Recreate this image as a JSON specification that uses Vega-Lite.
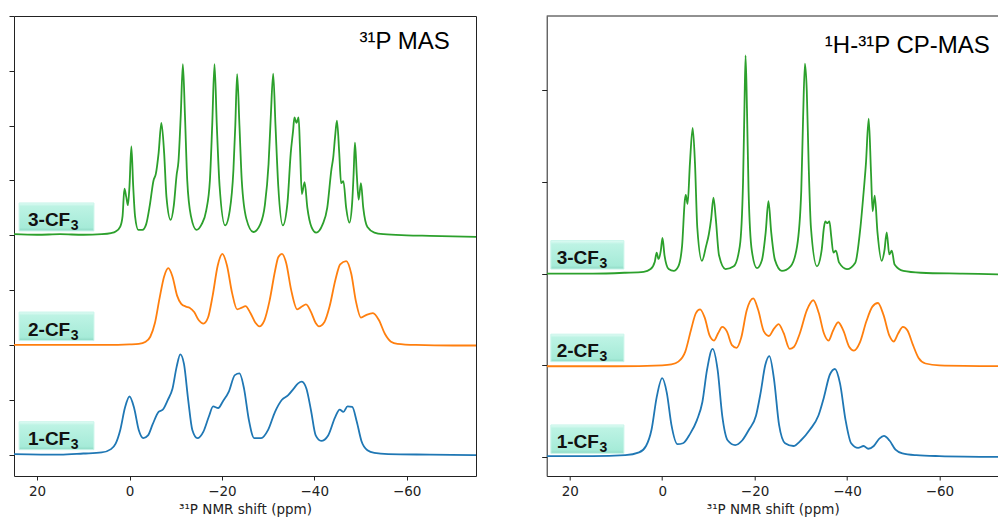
{
  "$schema": "https://vega.github.io/schema/vega-lite/v6.json",
  "padding": {"left": 8, "top": 15, "right": 0, "bottom": 0},
  "background": "white",
  "bounds": "flush",
  "spacing": 70.7,
  "config": {
    "axis": {"labelFont": "DejaVu Sans", "labelFontSize": 13.5, "labelColor": "#222", "titleFont": "DejaVu Sans", "titleFontSize": 13.5, "titleFontWeight": "normal", "titleColor": "#222", "tickColor": "#222", "domainColor": "#222", "grid": false},
    "view": {"stroke": "#222"}
  },
  "datasets": {
    "mas": [
      {"s":"3-CF3","ppm":25,"v":4.02},{"s":"3-CF3","ppm":20,"v":4.01},{"s":"3-CF3","ppm":15,"v":4.02},{"s":"3-CF3","ppm":10,"v":4.01},{"s":"3-CF3","ppm":6,"v":4.02},{"s":"3-CF3","ppm":4,"v":4.04},{"s":"3-CF3","ppm":3,"v":4.07},{"s":"3-CF3","ppm":2,"v":4.16},{"s":"3-CF3","ppm":1.5,"v":4.35},{"s":"3-CF3","ppm":1.1,"v":4.85},{"s":"3-CF3","ppm":0.7,"v":4.7},{"s":"3-CF3","ppm":0.35,"v":4.55},{"s":"3-CF3","ppm":0,"v":4.9},{"s":"3-CF3","ppm":-0.4,"v":5.62},{"s":"3-CF3","ppm":-0.8,"v":4.9},{"s":"3-CF3","ppm":-1.2,"v":4.35},{"s":"3-CF3","ppm":-1.9,"v":4.1},{"s":"3-CF3","ppm":-2.8,"v":4.1},{"s":"3-CF3","ppm":-3.6,"v":4.2},{"s":"3-CF3","ppm":-4.4,"v":4.55},{"s":"3-CF3","ppm":-5.2,"v":5.0},{"s":"3-CF3","ppm":-5.7,"v":5.12},{"s":"3-CF3","ppm":-6.3,"v":5.5},{"s":"3-CF3","ppm":-6.9,"v":6.05},{"s":"3-CF3","ppm":-7.5,"v":5.5},{"s":"3-CF3","ppm":-8.0,"v":4.7},{"s":"3-CF3","ppm":-8.9,"v":4.28},{"s":"3-CF3","ppm":-9.6,"v":4.55},{"s":"3-CF3","ppm":-10.2,"v":5.1},{"s":"3-CF3","ppm":-10.6,"v":5.35},{"s":"3-CF3","ppm":-11.1,"v":6.2},{"s":"3-CF3","ppm":-11.55,"v":7.12},{"s":"3-CF3","ppm":-12.0,"v":6.2},{"s":"3-CF3","ppm":-12.5,"v":5.0},{"s":"3-CF3","ppm":-13.3,"v":4.35},{"s":"3-CF3","ppm":-14.5,"v":4.1},{"s":"3-CF3","ppm":-15.6,"v":4.2},{"s":"3-CF3","ppm":-16.6,"v":4.45},{"s":"3-CF3","ppm":-17.4,"v":5.0},{"s":"3-CF3","ppm":-17.9,"v":6.0},{"s":"3-CF3","ppm":-18.4,"v":7.12},{"s":"3-CF3","ppm":-18.9,"v":6.0},{"s":"3-CF3","ppm":-19.5,"v":4.9},{"s":"3-CF3","ppm":-20.7,"v":4.18},{"s":"3-CF3","ppm":-21.7,"v":4.45},{"s":"3-CF3","ppm":-22.5,"v":5.2},{"s":"3-CF3","ppm":-22.9,"v":6.0},{"s":"3-CF3","ppm":-23.3,"v":6.94},{"s":"3-CF3","ppm":-23.8,"v":6.0},{"s":"3-CF3","ppm":-24.3,"v":5.0},{"s":"3-CF3","ppm":-25.3,"v":4.3},{"s":"3-CF3","ppm":-26.8,"v":4.06},{"s":"3-CF3","ppm":-28.3,"v":4.2},{"s":"3-CF3","ppm":-29.3,"v":4.55},{"s":"3-CF3","ppm":-30.1,"v":5.3},{"s":"3-CF3","ppm":-30.6,"v":6.2},{"s":"3-CF3","ppm":-31.1,"v":6.95},{"s":"3-CF3","ppm":-31.6,"v":6.0},{"s":"3-CF3","ppm":-32.2,"v":4.9},{"s":"3-CF3","ppm":-33.2,"v":4.18},{"s":"3-CF3","ppm":-34.2,"v":4.6},{"s":"3-CF3","ppm":-34.9,"v":5.5},{"s":"3-CF3","ppm":-35.4,"v":5.9},{"s":"3-CF3","ppm":-35.7,"v":6.15},{"s":"3-CF3","ppm":-36.15,"v":6.05},{"s":"3-CF3","ppm":-36.6,"v":6.15},{"s":"3-CF3","ppm":-36.9,"v":5.6},{"s":"3-CF3","ppm":-37.3,"v":4.75},{"s":"3-CF3","ppm":-37.9,"v":4.97},{"s":"3-CF3","ppm":-38.5,"v":4.5},{"s":"3-CF3","ppm":-39.4,"v":4.15},{"s":"3-CF3","ppm":-40.4,"v":4.05},{"s":"3-CF3","ppm":-41.8,"v":4.2},{"s":"3-CF3","ppm":-42.8,"v":4.5},{"s":"3-CF3","ppm":-43.7,"v":5.2},{"s":"3-CF3","ppm":-44.1,"v":5.42},{"s":"3-CF3","ppm":-44.5,"v":5.8},{"s":"3-CF3","ppm":-44.9,"v":6.09},{"s":"3-CF3","ppm":-45.4,"v":5.5},{"s":"3-CF3","ppm":-45.8,"v":4.95},{"s":"3-CF3","ppm":-46.3,"v":4.99},{"s":"3-CF3","ppm":-46.9,"v":4.5},{"s":"3-CF3","ppm":-47.6,"v":4.23},{"s":"3-CF3","ppm":-48.2,"v":4.6},{"s":"3-CF3","ppm":-48.5,"v":5.1},{"s":"3-CF3","ppm":-48.8,"v":5.69},{"s":"3-CF3","ppm":-49.2,"v":5.1},{"s":"3-CF3","ppm":-49.6,"v":4.65},{"s":"3-CF3","ppm":-50.1,"v":4.95},{"s":"3-CF3","ppm":-50.6,"v":4.5},{"s":"3-CF3","ppm":-51.5,"v":4.15},{"s":"3-CF3","ppm":-53,"v":4.05},{"s":"3-CF3","ppm":-55,"v":4.02},{"s":"3-CF3","ppm":-60,"v":4.0},{"s":"3-CF3","ppm":-65,"v":3.99},{"s":"3-CF3","ppm":-70,"v":3.98},{"s":"3-CF3","ppm":-75,"v":3.97},
      {"s":"2-CF3","ppm":25,"v":2.0},{"s":"2-CF3","ppm":15,"v":2.0},{"s":"2-CF3","ppm":5,"v":2.0},{"s":"2-CF3","ppm":0,"v":2.01},{"s":"2-CF3","ppm":-2,"v":2.02},{"s":"2-CF3","ppm":-3.5,"v":2.06},{"s":"2-CF3","ppm":-4.5,"v":2.15},{"s":"2-CF3","ppm":-5.5,"v":2.4},{"s":"2-CF3","ppm":-6.5,"v":2.85},{"s":"2-CF3","ppm":-7.5,"v":3.25},{"s":"2-CF3","ppm":-8.4,"v":3.4},{"s":"2-CF3","ppm":-9.3,"v":3.25},{"s":"2-CF3","ppm":-10.3,"v":2.9},{"s":"2-CF3","ppm":-11.2,"v":2.75},{"s":"2-CF3","ppm":-12.2,"v":2.7},{"s":"2-CF3","ppm":-13.0,"v":2.68},{"s":"2-CF3","ppm":-14.0,"v":2.6},{"s":"2-CF3","ppm":-15.0,"v":2.45},{"s":"2-CF3","ppm":-16.0,"v":2.39},{"s":"2-CF3","ppm":-17.0,"v":2.5},{"s":"2-CF3","ppm":-18.0,"v":2.9},{"s":"2-CF3","ppm":-19.1,"v":3.45},{"s":"2-CF3","ppm":-20.1,"v":3.66},{"s":"2-CF3","ppm":-21.1,"v":3.45},{"s":"2-CF3","ppm":-22.2,"v":2.95},{"s":"2-CF3","ppm":-23.3,"v":2.65},{"s":"2-CF3","ppm":-24.3,"v":2.68},{"s":"2-CF3","ppm":-25.1,"v":2.71},{"s":"2-CF3","ppm":-26.2,"v":2.58},{"s":"2-CF3","ppm":-27.3,"v":2.4},{"s":"2-CF3","ppm":-28.1,"v":2.34},{"s":"2-CF3","ppm":-29.2,"v":2.45},{"s":"2-CF3","ppm":-30.3,"v":2.8},{"s":"2-CF3","ppm":-31.5,"v":3.35},{"s":"2-CF3","ppm":-32.2,"v":3.6},{"s":"2-CF3","ppm":-33.0,"v":3.66},{"s":"2-CF3","ppm":-33.9,"v":3.5},{"s":"2-CF3","ppm":-35.0,"v":3.0},{"s":"2-CF3","ppm":-36.3,"v":2.65},{"s":"2-CF3","ppm":-37.3,"v":2.7},{"s":"2-CF3","ppm":-38.2,"v":2.74},{"s":"2-CF3","ppm":-39.3,"v":2.6},{"s":"2-CF3","ppm":-40.3,"v":2.4},{"s":"2-CF3","ppm":-41.0,"v":2.34},{"s":"2-CF3","ppm":-42.2,"v":2.42},{"s":"2-CF3","ppm":-43.3,"v":2.7},{"s":"2-CF3","ppm":-44.6,"v":3.2},{"s":"2-CF3","ppm":-45.6,"v":3.47},{"s":"2-CF3","ppm":-46.9,"v":3.53},{"s":"2-CF3","ppm":-48.0,"v":3.3},{"s":"2-CF3","ppm":-49.0,"v":2.8},{"s":"2-CF3","ppm":-50.1,"v":2.5},{"s":"2-CF3","ppm":-51.3,"v":2.55},{"s":"2-CF3","ppm":-52.7,"v":2.58},{"s":"2-CF3","ppm":-54.0,"v":2.45},{"s":"2-CF3","ppm":-55.3,"v":2.2},{"s":"2-CF3","ppm":-56.6,"v":2.06},{"s":"2-CF3","ppm":-58,"v":2.02},{"s":"2-CF3","ppm":-62,"v":2.0},{"s":"2-CF3","ppm":-70,"v":1.99},{"s":"2-CF3","ppm":-75,"v":1.99},
      {"s":"1-CF3","ppm":25,"v":0.01},{"s":"1-CF3","ppm":15,"v":0.0},{"s":"1-CF3","ppm":10,"v":0.02},{"s":"1-CF3","ppm":6,"v":0.04},{"s":"1-CF3","ppm":4,"v":0.1},{"s":"1-CF3","ppm":3,"v":0.2},{"s":"1-CF3","ppm":2,"v":0.45},{"s":"1-CF3","ppm":1,"v":0.85},{"s":"1-CF3","ppm":0,"v":1.06},{"s":"1-CF3","ppm":-1,"v":0.85},{"s":"1-CF3","ppm":-2,"v":0.45},{"s":"1-CF3","ppm":-3,"v":0.3},{"s":"1-CF3","ppm":-4,"v":0.35},{"s":"1-CF3","ppm":-5,"v":0.55},{"s":"1-CF3","ppm":-6.3,"v":0.78},{"s":"1-CF3","ppm":-7.2,"v":0.82},{"s":"1-CF3","ppm":-8.3,"v":1.0},{"s":"1-CF3","ppm":-9.3,"v":1.2},{"s":"1-CF3","ppm":-10.2,"v":1.6},{"s":"1-CF3","ppm":-11.0,"v":1.83},{"s":"1-CF3","ppm":-11.8,"v":1.65},{"s":"1-CF3","ppm":-12.7,"v":1.0},{"s":"1-CF3","ppm":-13.6,"v":0.45},{"s":"1-CF3","ppm":-14.7,"v":0.3},{"s":"1-CF3","ppm":-16,"v":0.42},{"s":"1-CF3","ppm":-17.2,"v":0.7},{"s":"1-CF3","ppm":-18.1,"v":0.88},{"s":"1-CF3","ppm":-19.2,"v":0.85},{"s":"1-CF3","ppm":-20.2,"v":0.97},{"s":"1-CF3","ppm":-21.5,"v":1.15},{"s":"1-CF3","ppm":-22.8,"v":1.45},{"s":"1-CF3","ppm":-23.8,"v":1.48},{"s":"1-CF3","ppm":-24.8,"v":1.2},{"s":"1-CF3","ppm":-25.8,"v":0.65},{"s":"1-CF3","ppm":-27.0,"v":0.3},{"s":"1-CF3","ppm":-28.5,"v":0.3},{"s":"1-CF3","ppm":-30,"v":0.45},{"s":"1-CF3","ppm":-31.5,"v":0.78},{"s":"1-CF3","ppm":-33,"v":1.0},{"s":"1-CF3","ppm":-34.3,"v":1.08},{"s":"1-CF3","ppm":-35.5,"v":1.2},{"s":"1-CF3","ppm":-36.5,"v":1.3},{"s":"1-CF3","ppm":-37.3,"v":1.33},{"s":"1-CF3","ppm":-38.3,"v":1.2},{"s":"1-CF3","ppm":-39.3,"v":0.8},{"s":"1-CF3","ppm":-40.3,"v":0.35},{"s":"1-CF3","ppm":-41.5,"v":0.25},{"s":"1-CF3","ppm":-43,"v":0.35},{"s":"1-CF3","ppm":-44.5,"v":0.68},{"s":"1-CF3","ppm":-45.5,"v":0.82},{"s":"1-CF3","ppm":-46.3,"v":0.78},{"s":"1-CF3","ppm":-47.2,"v":0.88},{"s":"1-CF3","ppm":-48.2,"v":0.87},{"s":"1-CF3","ppm":-49.2,"v":0.6},{"s":"1-CF3","ppm":-50.2,"v":0.25},{"s":"1-CF3","ppm":-51.5,"v":0.08},{"s":"1-CF3","ppm":-53,"v":0.03},{"s":"1-CF3","ppm":-56,"v":0.01},{"s":"1-CF3","ppm":-65,"v":0.0},{"s":"1-CF3","ppm":-75,"v":-0.01}
    ],
    "cp": [
      {"s":"3-CF3","ppm":25,"v":2.0},{"s":"3-CF3","ppm":15,"v":2.0},{"s":"3-CF3","ppm":8,"v":2.01},{"s":"3-CF3","ppm":4,"v":2.02},{"s":"3-CF3","ppm":2.5,"v":2.05},{"s":"3-CF3","ppm":1.6,"v":2.13},{"s":"3-CF3","ppm":1.2,"v":2.23},{"s":"3-CF3","ppm":0.8,"v":2.16},{"s":"3-CF3","ppm":0.3,"v":2.25},{"s":"3-CF3","ppm":-0.06,"v":2.39},{"s":"3-CF3","ppm":-0.5,"v":2.2},{"s":"3-CF3","ppm":-1.4,"v":2.05},{"s":"3-CF3","ppm":-2.5,"v":2.03},{"s":"3-CF3","ppm":-3.5,"v":2.08},{"s":"3-CF3","ppm":-4.3,"v":2.3},{"s":"3-CF3","ppm":-4.9,"v":2.8},{"s":"3-CF3","ppm":-5.1,"v":2.86},{"s":"3-CF3","ppm":-5.5,"v":2.76},{"s":"3-CF3","ppm":-6.0,"v":3.2},{"s":"3-CF3","ppm":-6.6,"v":3.59},{"s":"3-CF3","ppm":-7.1,"v":3.2},{"s":"3-CF3","ppm":-7.6,"v":2.5},{"s":"3-CF3","ppm":-8.6,"v":2.14},{"s":"3-CF3","ppm":-9.5,"v":2.3},{"s":"3-CF3","ppm":-10.1,"v":2.43},{"s":"3-CF3","ppm":-10.6,"v":2.6},{"s":"3-CF3","ppm":-11.1,"v":2.83},{"s":"3-CF3","ppm":-11.6,"v":2.6},{"s":"3-CF3","ppm":-12.3,"v":2.2},{"s":"3-CF3","ppm":-13.7,"v":2.05},{"s":"3-CF3","ppm":-15.5,"v":2.08},{"s":"3-CF3","ppm":-16.8,"v":2.3},{"s":"3-CF3","ppm":-17.5,"v":3.0},{"s":"3-CF3","ppm":-17.8,"v":3.8},{"s":"3-CF3","ppm":-18.05,"v":4.38},{"s":"3-CF3","ppm":-18.35,"v":3.8},{"s":"3-CF3","ppm":-18.7,"v":2.9},{"s":"3-CF3","ppm":-19.4,"v":2.25},{"s":"3-CF3","ppm":-20.5,"v":2.06},{"s":"3-CF3","ppm":-21.6,"v":2.15},{"s":"3-CF3","ppm":-22.4,"v":2.45},{"s":"3-CF3","ppm":-23.0,"v":2.79},{"s":"3-CF3","ppm":-23.6,"v":2.45},{"s":"3-CF3","ppm":-24.4,"v":2.15},{"s":"3-CF3","ppm":-25.9,"v":2.03},{"s":"3-CF3","ppm":-27.8,"v":2.08},{"s":"3-CF3","ppm":-29.2,"v":2.3},{"s":"3-CF3","ppm":-30.1,"v":2.9},{"s":"3-CF3","ppm":-30.5,"v":3.7},{"s":"3-CF3","ppm":-30.9,"v":4.29},{"s":"3-CF3","ppm":-31.3,"v":3.99},{"s":"3-CF3","ppm":-31.7,"v":3.2},{"s":"3-CF3","ppm":-32.2,"v":2.5},{"s":"3-CF3","ppm":-33.5,"v":2.08},{"s":"3-CF3","ppm":-34.5,"v":2.25},{"s":"3-CF3","ppm":-35.0,"v":2.5},{"s":"3-CF3","ppm":-35.3,"v":2.57},{"s":"3-CF3","ppm":-35.7,"v":2.55},{"s":"3-CF3","ppm":-36.2,"v":2.57},{"s":"3-CF3","ppm":-36.6,"v":2.4},{"s":"3-CF3","ppm":-37.05,"v":2.23},{"s":"3-CF3","ppm":-37.6,"v":2.25},{"s":"3-CF3","ppm":-38.3,"v":2.12},{"s":"3-CF3","ppm":-40,"v":2.05},{"s":"3-CF3","ppm":-41.8,"v":2.12},{"s":"3-CF3","ppm":-42.9,"v":2.5},{"s":"3-CF3","ppm":-43.5,"v":2.83},{"s":"3-CF3","ppm":-44.1,"v":3.2},{"s":"3-CF3","ppm":-44.7,"v":3.69},{"s":"3-CF3","ppm":-45.2,"v":3.1},{"s":"3-CF3","ppm":-45.55,"v":2.68},{"s":"3-CF3","ppm":-46.0,"v":2.85},{"s":"3-CF3","ppm":-46.6,"v":2.45},{"s":"3-CF3","ppm":-47.5,"v":2.14},{"s":"3-CF3","ppm":-48.1,"v":2.25},{"s":"3-CF3","ppm":-48.6,"v":2.45},{"s":"3-CF3","ppm":-49.15,"v":2.21},{"s":"3-CF3","ppm":-49.7,"v":2.25},{"s":"3-CF3","ppm":-50.3,"v":2.1},{"s":"3-CF3","ppm":-52.2,"v":2.03},{"s":"3-CF3","ppm":-56,"v":2.01},{"s":"3-CF3","ppm":-65,"v":2.0},{"s":"3-CF3","ppm":-75,"v":1.99},
      {"s":"2-CF3","ppm":25,"v":0.99},{"s":"2-CF3","ppm":10,"v":0.99},{"s":"2-CF3","ppm":0,"v":1.0},{"s":"2-CF3","ppm":-2,"v":1.01},{"s":"2-CF3","ppm":-3.5,"v":1.04},{"s":"2-CF3","ppm":-5,"v":1.15},{"s":"2-CF3","ppm":-6.3,"v":1.4},{"s":"2-CF3","ppm":-7.3,"v":1.57},{"s":"2-CF3","ppm":-8.2,"v":1.61},{"s":"2-CF3","ppm":-9.2,"v":1.52},{"s":"2-CF3","ppm":-10.3,"v":1.32},{"s":"2-CF3","ppm":-11.2,"v":1.27},{"s":"2-CF3","ppm":-12.1,"v":1.35},{"s":"2-CF3","ppm":-13.0,"v":1.42},{"s":"2-CF3","ppm":-14.0,"v":1.37},{"s":"2-CF3","ppm":-15.1,"v":1.22},{"s":"2-CF3","ppm":-16.1,"v":1.19},{"s":"2-CF3","ppm":-17.1,"v":1.3},{"s":"2-CF3","ppm":-18.3,"v":1.6},{"s":"2-CF3","ppm":-19.7,"v":1.73},{"s":"2-CF3","ppm":-20.8,"v":1.6},{"s":"2-CF3","ppm":-22.0,"v":1.37},{"s":"2-CF3","ppm":-23.1,"v":1.32},{"s":"2-CF3","ppm":-24.2,"v":1.4},{"s":"2-CF3","ppm":-25.2,"v":1.45},{"s":"2-CF3","ppm":-26.3,"v":1.35},{"s":"2-CF3","ppm":-27.6,"v":1.18},{"s":"2-CF3","ppm":-28.5,"v":1.2},{"s":"2-CF3","ppm":-29.8,"v":1.35},{"s":"2-CF3","ppm":-31.3,"v":1.6},{"s":"2-CF3","ppm":-32.7,"v":1.71},{"s":"2-CF3","ppm":-33.9,"v":1.57},{"s":"2-CF3","ppm":-35.0,"v":1.35},{"s":"2-CF3","ppm":-36.0,"v":1.27},{"s":"2-CF3","ppm":-37.0,"v":1.38},{"s":"2-CF3","ppm":-38.1,"v":1.47},{"s":"2-CF3","ppm":-39.2,"v":1.38},{"s":"2-CF3","ppm":-40.5,"v":1.2},{"s":"2-CF3","ppm":-41.5,"v":1.16},{"s":"2-CF3","ppm":-42.8,"v":1.25},{"s":"2-CF3","ppm":-44.2,"v":1.48},{"s":"2-CF3","ppm":-45.5,"v":1.64},{"s":"2-CF3","ppm":-46.7,"v":1.68},{"s":"2-CF3","ppm":-47.9,"v":1.55},{"s":"2-CF3","ppm":-49.2,"v":1.32},{"s":"2-CF3","ppm":-50.1,"v":1.26},{"s":"2-CF3","ppm":-51.1,"v":1.35},{"s":"2-CF3","ppm":-52.1,"v":1.42},{"s":"2-CF3","ppm":-53.1,"v":1.38},{"s":"2-CF3","ppm":-54.3,"v":1.22},{"s":"2-CF3","ppm":-55.5,"v":1.08},{"s":"2-CF3","ppm":-57,"v":1.02},{"s":"2-CF3","ppm":-60,"v":1.0},{"s":"2-CF3","ppm":-75,"v":0.99},
      {"s":"1-CF3","ppm":25,"v":0.01},{"s":"1-CF3","ppm":15,"v":0.01},{"s":"1-CF3","ppm":8,"v":0.02},{"s":"1-CF3","ppm":5,"v":0.05},{"s":"1-CF3","ppm":3.5,"v":0.12},{"s":"1-CF3","ppm":2.3,"v":0.3},{"s":"1-CF3","ppm":1.2,"v":0.65},{"s":"1-CF3","ppm":0,"v":0.86},{"s":"1-CF3","ppm":-1.0,"v":0.7},{"s":"1-CF3","ppm":-2.0,"v":0.35},{"s":"1-CF3","ppm":-3.3,"v":0.14},{"s":"1-CF3","ppm":-4.5,"v":0.15},{"s":"1-CF3","ppm":-6,"v":0.25},{"s":"1-CF3","ppm":-7.5,"v":0.4},{"s":"1-CF3","ppm":-8.7,"v":0.6},{"s":"1-CF3","ppm":-9.7,"v":0.95},{"s":"1-CF3","ppm":-10.9,"v":1.18},{"s":"1-CF3","ppm":-12.0,"v":0.95},{"s":"1-CF3","ppm":-13.0,"v":0.45},{"s":"1-CF3","ppm":-14.2,"v":0.18},{"s":"1-CF3","ppm":-15.8,"v":0.13},{"s":"1-CF3","ppm":-17.3,"v":0.18},{"s":"1-CF3","ppm":-18.8,"v":0.3},{"s":"1-CF3","ppm":-20.3,"v":0.45},{"s":"1-CF3","ppm":-21.3,"v":0.7},{"s":"1-CF3","ppm":-22.3,"v":1.0},{"s":"1-CF3","ppm":-23.2,"v":1.1},{"s":"1-CF3","ppm":-24.2,"v":0.85},{"s":"1-CF3","ppm":-25.3,"v":0.35},{"s":"1-CF3","ppm":-26.6,"v":0.15},{"s":"1-CF3","ppm":-28.4,"v":0.12},{"s":"1-CF3","ppm":-30,"v":0.18},{"s":"1-CF3","ppm":-32,"v":0.3},{"s":"1-CF3","ppm":-33.8,"v":0.45},{"s":"1-CF3","ppm":-35.0,"v":0.65},{"s":"1-CF3","ppm":-36.3,"v":0.9},{"s":"1-CF3","ppm":-37.4,"v":0.96},{"s":"1-CF3","ppm":-38.5,"v":0.8},{"s":"1-CF3","ppm":-39.7,"v":0.4},{"s":"1-CF3","ppm":-40.9,"v":0.15},{"s":"1-CF3","ppm":-42.4,"v":0.1},{"s":"1-CF3","ppm":-43.6,"v":0.12},{"s":"1-CF3","ppm":-44.6,"v":0.09},{"s":"1-CF3","ppm":-45.8,"v":0.12},{"s":"1-CF3","ppm":-47.0,"v":0.2},{"s":"1-CF3","ppm":-48.0,"v":0.23},{"s":"1-CF3","ppm":-49.2,"v":0.18},{"s":"1-CF3","ppm":-50.5,"v":0.08},{"s":"1-CF3","ppm":-52,"v":0.04},{"s":"1-CF3","ppm":-55,"v":0.02},{"s":"1-CF3","ppm":-60,"v":0.01},{"s":"1-CF3","ppm":-75,"v":0.0}
    ],
    "lab_mas": [
      {"s":"3-CF3","main":"3-CF","sub":"3","lo":4.08,"hi":4.59},
      {"s":"2-CF3","main":"2-CF","sub":"3","lo":2.08,"hi":2.6},
      {"s":"1-CF3","main":"1-CF","sub":"3","lo":0.09,"hi":0.6}
    ],
    "lab_cp": [
      {"s":"3-CF3","main":"3-CF","sub":"3","lo":2.05,"hi":2.36},
      {"s":"2-CF3","main":"2-CF","sub":"3","lo":1.04,"hi":1.34},
      {"s":"1-CF3","main":"1-CF","sub":"3","lo":0.04,"hi":0.35}
    ]
  },
  "hconcat": [
    {
      "width": 462, "height": 460,
      "view": {"stroke": "#222", "strokeWidth": 1},
      "layer": [
        {
          "data": {"name": "mas"},
          "mark": {"type": "line", "strokeWidth": 1.8, "interpolate": "monotone", "clip": true},
          "encoding": {
            "x": {"field": "ppm", "type": "quantitative", "scale": {"domain": [-75, 25], "reverse": true, "nice": false, "zero": false},
                  "axis": {"values": [20, 0, -20, -40, -60], "format": "d", "title": "³¹P NMR shift (ppm)", "domain": false, "tickSize": 4, "labelPadding": 4, "titlePadding": 5}},
            "y": {"field": "v", "type": "quantitative", "scale": {"domain": [-0.39, 8], "nice": false, "zero": false},
                  "axis": {"values": [0, 1, 2, 3, 4, 5, 6, 7, 8], "labels": false, "title": null, "domain": false, "tickSize": 5}},
            "color": {"field": "s", "type": "nominal", "scale": {"domain": ["1-CF3", "2-CF3", "3-CF3"], "range": ["#1f77b4", "#ff7f0e", "#2ca02c"]}, "legend": null}
          }
        },
        {
          "data": {"name": "lab_mas"},
          "mark": {"type": "rect", "fill": {"gradient": "linear", "x1": 0, "y1": 0, "x2": 0, "y2": 1, "stops": [{"offset": 0, "color": "#e2fcf5"}, {"offset": 0.12, "color": "#bdf3e4"}, {"offset": 0.88, "color": "#a6ebd8"}, {"offset": 1, "color": "#8fd9c4"}]}, "stroke": "#c9f5ea", "strokeWidth": 1},
          "encoding": {
            "x": {"datum": 23.9, "type": "quantitative"},
            "x2": {"datum": 7.7},
            "y": {"field": "lo", "type": "quantitative"},
            "y2": {"field": "hi"}
          }
        },
        {
          "data": {"name": "lab_mas"},
          "mark": {"type": "text", "align": "right", "baseline": "alphabetic", "dy": -5, "font": "Liberation Sans", "fontWeight": "bold", "fontSize": 19, "color": "#111"},
          "encoding": {
            "x": {"datum": 12.83, "type": "quantitative"},
            "y": {"field": "lo", "type": "quantitative"},
            "text": {"field": "main"}
          }
        },
        {
          "data": {"name": "lab_mas"},
          "mark": {"type": "text", "align": "left", "baseline": "alphabetic", "dy": -1, "dx": 0.5, "font": "Liberation Sans", "fontWeight": "bold", "fontSize": 14, "color": "#111"},
          "encoding": {
            "x": {"datum": 12.83, "type": "quantitative"},
            "y": {"field": "lo", "type": "quantitative"},
            "text": {"field": "sub"}
          }
        },
        {
          "data": {"values": [{"t": "³¹P MAS"}]},
          "mark": {"type": "text", "align": "right", "baseline": "alphabetic", "font": "Liberation Sans", "fontSize": 24, "color": "#000"},
          "encoding": {
            "x": {"datum": -69.3, "type": "quantitative"},
            "y": {"datum": 7.39, "type": "quantitative"},
            "text": {"field": "t"}
          }
        }
      ]
    },
    {
      "width": 452, "height": 460,
      "view": {"stroke": null},
      "layer": [
        {
          "data": {"name": "cp"},
          "mark": {"type": "line", "strokeWidth": 1.8, "interpolate": "monotone", "clip": true},
          "encoding": {
            "x": {"field": "ppm", "type": "quantitative", "scale": {"domain": [-72.84, 25], "reverse": true, "nice": false, "zero": false},
                  "axis": {"values": [20, 0, -20, -40, -60], "format": "d", "title": "³¹P NMR shift (ppm)", "domain": true, "tickSize": 4, "labelPadding": 4, "titlePadding": 5}},
            "y": {"field": "v", "type": "quantitative", "scale": {"domain": [-0.207, 4.81], "nice": false, "zero": false},
                  "axis": {"values": [0, 1, 2, 3, 4], "labels": false, "title": null, "domain": true, "tickSize": 5}},
            "color": {"field": "s", "type": "nominal", "scale": {"domain": ["1-CF3", "2-CF3", "3-CF3"], "range": ["#1f77b4", "#ff7f0e", "#2ca02c"]}, "legend": null}
          }
        },
        {
          "data": {"values": [{}]},
          "mark": {"type": "rule", "color": "#222", "strokeWidth": 1},
          "encoding": {
            "y": {"datum": 4.81, "type": "quantitative"}
          }
        },
        {
          "data": {"name": "lab_cp"},
          "mark": {"type": "rect", "fill": {"gradient": "linear", "x1": 0, "y1": 0, "x2": 0, "y2": 1, "stops": [{"offset": 0, "color": "#e2fcf5"}, {"offset": 0.12, "color": "#bdf3e4"}, {"offset": 0.88, "color": "#a6ebd8"}, {"offset": 1, "color": "#8fd9c4"}]}, "stroke": "#c9f5ea", "strokeWidth": 1},
          "encoding": {
            "x": {"datum": 24.1, "type": "quantitative"},
            "x2": {"datum": 8.29},
            "y": {"field": "lo", "type": "quantitative"},
            "y2": {"field": "hi"}
          }
        },
        {
          "data": {"name": "lab_cp"},
          "mark": {"type": "text", "align": "right", "baseline": "alphabetic", "dy": -5, "font": "Liberation Sans", "fontWeight": "bold", "fontSize": 19, "color": "#111"},
          "encoding": {
            "x": {"datum": 13.69, "type": "quantitative"},
            "y": {"field": "lo", "type": "quantitative"},
            "text": {"field": "main"}
          }
        },
        {
          "data": {"name": "lab_cp"},
          "mark": {"type": "text", "align": "left", "baseline": "alphabetic", "dy": -1, "dx": 0.5, "font": "Liberation Sans", "fontWeight": "bold", "fontSize": 14, "color": "#111"},
          "encoding": {
            "x": {"datum": 13.69, "type": "quantitative"},
            "y": {"field": "lo", "type": "quantitative"},
            "text": {"field": "sub"}
          }
        },
        {
          "data": {"values": [{"t": "¹H-³¹P CP-MAS"}]},
          "mark": {"type": "text", "align": "right", "baseline": "alphabetic", "font": "Liberation Sans", "fontSize": 24, "color": "#000"},
          "encoding": {
            "x": {"datum": -70.9, "type": "quantitative"},
            "y": {"datum": 4.41, "type": "quantitative"},
            "text": {"field": "t"}
          }
        }
      ]
    }
  ]
}
